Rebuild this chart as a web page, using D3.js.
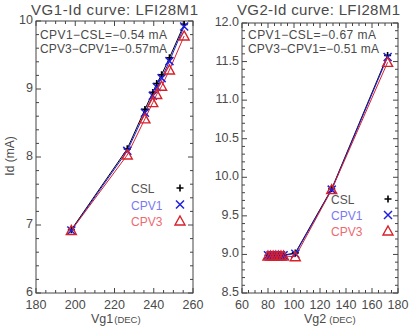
<!DOCTYPE html>
<html><head><meta charset="utf-8">
<script src="https://cdn.jsdelivr.net/npm/d3@7"></script>
<style>body{margin:0;background:#fff}svg{display:block}text{font-family:"Liberation Sans",Arial,sans-serif;fill:#4a4a4a}</style>
</head><body><svg id="c" width="409" height="326"></svg>
<script>
// Panel 1: VG1
const vg1 = [198, 226.5, 235.5, 239.5, 241.5, 244, 248, 255.5];
const csl1 = [6.93, 8.12, 8.70, 8.95, 9.08, 9.21, 9.46, 9.95];
const cpv1_1 = [6.92, 8.09, 8.65, 8.90, 9.03, 9.16, 9.41, 9.92];
const cpv3_1 = [6.92, 8.03, 8.56, 8.80, 8.92, 9.04, 9.28, 9.78];
// Panel 2: VG2
const vg2 = [80, 82, 84, 86, 88, 90, 92, 101, 129, 172];
const csl2 = [8.99, 8.99, 8.99, 8.99, 8.99, 8.99, 8.99, 9.02, 9.85, 11.58];
const cpv1_2 = [8.99, 8.99, 8.99, 8.99, 8.99, 8.99, 8.99, 9.01, 9.84, 11.56];
const cpv3_2 = [8.98, 8.98, 8.98, 8.98, 8.98, 8.98, 8.98, 8.97, 9.84, 11.49];
const titles = ["VG1-Id curve: LFI28M1", "VG2-Id curve: LFI28M1"];
const notes1 = ["CPV1\u2212CSL=\u22120.54 mA", "CPV3\u2212CPV1=\u22120.57mA"];
const notes2 = ["CPV1\u2212CSL=\u22120.67 mA", "CPV3\u2212CPV1=\u22120.51 mA"];
const seriesNames = ["CSL", "CPV1", "CPV3"];
const xTicks1 = [180, 200, 220, 240, 260];
const yTicks1 = [6, 7, 8, 9, 10];
const xTicks2 = [60, 80, 100, 120, 140, 160, 180];
const yTicks2 = [8.5, 9.0, 9.5, 10.0, 10.5, 11.0, 11.5, 12.0];
const yLabel = "Id (mA)";

const svg = d3.select("#c");
const lineCol = ["#000", "#1f1fe0", "#d8202a"];
const legCol = ["#555", "#7a7af5", "#ee6a70"];

function panel(o) {
  const x = d3.scaleLinear().domain(o.xd).range(o.xr);
  const y = d3.scaleLinear().domain(o.yd).range(o.yr);
  const g = svg.append("g");
  const [x0, x1] = o.xr, [y0, y1] = o.yr;
  g.append("rect").attr("x", x0).attr("y", y1).attr("width", x1 - x0).attr("height", y0 - y1)
    .attr("fill", "none").attr("stroke", "#444").attr("stroke-width", 1);
  const xminor = d3.range(o.xd[0], o.xd[1] + 1e-9, o.xminor);
  const yminor = d3.range(o.yd[0], o.yd[1] + 1e-9, o.yminor);
  const tk = g.append("g").attr("stroke", "#444").attr("stroke-width", 1);
  xminor.forEach(v => {
    const major = o.xt.some(t => Math.abs(t - v) < 1e-6);
    const L = major ? 5 : 3;
    tk.append("line").attr("x1", x(v)).attr("x2", x(v)).attr("y1", y0).attr("y2", y0 - L);
    tk.append("line").attr("x1", x(v)).attr("x2", x(v)).attr("y1", y1).attr("y2", y1 + L);
  });
  yminor.forEach(v => {
    const major = o.yt.some(t => Math.abs(t - v) < 1e-6);
    const L = major ? 5 : 3;
    tk.append("line").attr("y1", y(v)).attr("y2", y(v)).attr("x1", x0).attr("x2", x0 + L);
    tk.append("line").attr("y1", y(v)).attr("y2", y(v)).attr("x1", x1).attr("x2", x1 - L);
  });
  o.xt.forEach(v => g.append("text").attr("x", x(v)).attr("y", y0 + 16).attr("text-anchor", "middle")
    .attr("font-size", 12.5).text(v));
  o.yt.forEach(v => g.append("text").attr("x", x0 - 3).attr("y", y(v) + 3).attr("text-anchor", "end")
    .attr("font-size", 12.5).text(o.yfmt(v)));
  g.append("text").attr("x", o.tx).attr("y", 15).attr("font-size", 15).attr("textLength", o.tw)
    .attr("lengthAdjust", "spacing").text(o.title);
  const xl = g.append("text").attr("x", o.xlx).attr("y", 323).attr("font-size", 12.5);
  xl.append("tspan").text(o.xlab);
  xl.append("tspan").attr("font-size", 9.5).attr("dx", o.xldx).text("(DEC)");
  if (o.ylab) {
    g.append("text").attr("transform", "translate(14,156) rotate(-90)").attr("text-anchor", "middle")
      .attr("font-size", 12).text(o.ylab);
  }
  o.notes.forEach((t, i) => g.append("text").attr("x", o.nx).attr("y", 39 + i * 14).attr("font-size", 12)
    .attr("textLength", o.nw[i]).attr("lengthAdjust", "spacing").text(t));
  const sets = [o.s0, o.s1, o.s2];
  const ln = d3.line().x((d, i) => x(o.xs[i])).y(d => y(d));
  sets.forEach((s, k) => g.append("path").attr("d", ln(s)).attr("fill", "none")
    .attr("stroke", lineCol[k]).attr("stroke-width", 1));
  function mark(k, cx, cy) {
    if (k === 0) {
      g.append("path").attr("d", `M${cx-3.5},${cy}h7M${cx},${cy-3.5}v7`).attr("stroke", "#000").attr("stroke-width", 1.6);
    } else if (k === 1) {
      g.append("path").attr("d", `M${cx-4},${cy-4}L${cx+4},${cy+4}M${cx-4},${cy+4}L${cx+4},${cy-4}`)
        .attr("stroke", "#1f1fe0").attr("stroke-width", 1.5);
    } else {
      g.append("path").attr("d", `M${cx},${cy-5}L${cx+5},${cy+4}L${cx-5},${cy+4}Z`)
        .attr("fill", "none").attr("stroke", "#d8202a").attr("stroke-width", 1.4);
    }
  }
  sets.forEach((s, k) => s.forEach((v, i) => mark(k, x(o.xs[i]), y(v))));
  seriesNames.forEach((n, k) => {
    const ly = o.ly + k * o.lgap;
    g.append("text").attr("x", o.lx).attr("y", ly + 5).attr("font-size", 12).style("fill", legCol[k]).text(n);
    mark(k, o.lmx, ly);
  });
}

panel({xd: [180, 260], xr: [36, 193], yd: [6, 10], yr: [293, 21], xt: xTicks1, yt: yTicks1,
  xminor: 5, yminor: 0.2, yfmt: d => d, xs: vg1, s0: csl1, s1: cpv1_1, s2: cpv3_1,
  title: titles[0], tx: 31, tw: 167, xlab: "Vg1", xlx: 91, xldx: 1, notes: notes1, nx: 40, nw: [127, 127],
  lx: 131, lmx: 180, ly: 188, lgap: 16.5, ylab: yLabel});
panel({xd: [60, 180], xr: [242, 398], yd: [8.5, 12], yr: [293, 23], xt: xTicks2, yt: yTicks2,
  xminor: 5, yminor: 0.1, yfmt: d => d.toFixed(1), xs: vg2, s0: csl2, s1: cpv1_2, s2: cpv3_2,
  title: titles[1], tx: 237, tw: 163, xlab: "Vg2", xlx: 304, xldx: 3, notes: notes2, nx: 248, nw: [128, 131],
  lx: 331, lmx: 388, ly: 199, lgap: 16, ylab: null});
</script></body></html>
